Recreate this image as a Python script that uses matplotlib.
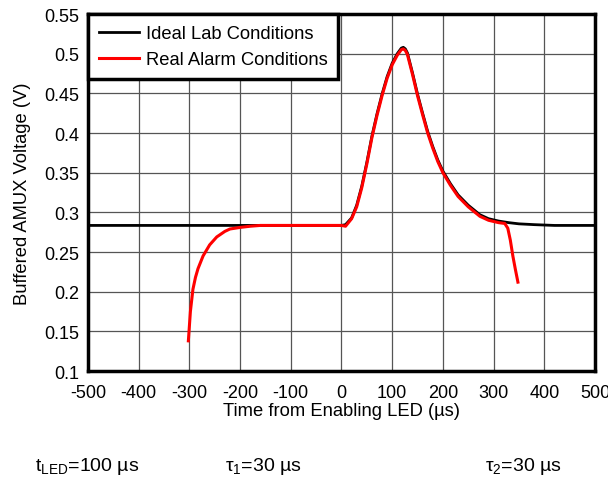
import numpy as np
import matplotlib.pyplot as plt

plt.rcParams['font.family'] = ['Liberation Sans', 'DejaVu Sans']
plt.rcParams['mathtext.default'] = 'regular'
plt.rcParams['axes.unicode_minus'] = False

# Ideal lab response (time in us, voltage in V)
t_ideal = [-500, -400, -300, -200, -100, 0, 8,
           20, 30, 40, 50, 60, 70, 80, 90, 100, 110, 118, 122, 126, 130,
           140, 150, 160, 170, 180, 190, 200, 215, 230, 250, 273, 290, 310,
           330, 350, 380, 420, 460, 500]
v_ideal = [0.2835, 0.2835, 0.2835, 0.2835, 0.2835, 0.2835, 0.2845,
           0.293, 0.309, 0.333, 0.363, 0.396, 0.424, 0.449, 0.471, 0.488, 0.500, 0.507, 0.508, 0.506, 0.501,
           0.476, 0.449, 0.425, 0.402, 0.383, 0.366, 0.352, 0.336, 0.322, 0.309, 0.297, 0.292, 0.289,
           0.287, 0.2855, 0.2845, 0.2835, 0.2835, 0.2835]

# Real alarm response
t_real = [-302, -298, -293, -288, -283, -273, -260, -246, -230, -220, -200, -180,
          -160, -100, -50, 0, 8, 20, 30, 40, 50, 60, 70, 80, 90, 100, 110, 118,
          122, 126, 130, 140, 150, 160, 170, 180, 190, 200, 215, 230, 250, 273,
          290, 310, 322, 328, 333, 338, 343, 348]
v_real = [0.138, 0.175, 0.203, 0.218, 0.229, 0.245, 0.259, 0.269, 0.276, 0.279, 0.281, 0.2825,
          0.2835, 0.2835, 0.2835, 0.2835, 0.2825, 0.292, 0.307, 0.331, 0.361, 0.394, 0.422, 0.447, 0.469, 0.486, 0.498, 0.505,
          0.506, 0.504, 0.499, 0.474, 0.447, 0.423, 0.400, 0.381, 0.364, 0.350, 0.334, 0.320, 0.307, 0.295,
          0.290, 0.287, 0.286, 0.280, 0.265, 0.245, 0.228, 0.212]

fig = plt.figure(figsize=(6.08, 4.81), dpi=100)
ax = fig.add_axes([0.1447, 0.2266, 0.8339, 0.7422])

ax.plot(t_ideal, v_ideal, color='black', lw=2.0, label='Ideal Lab Conditions')
ax.plot(t_real, v_real, color='red', lw=2.2, label='Real Alarm Conditions')

ax.set_xlim(-500, 500)
ax.set_ylim(0.1, 0.55)
ax.set_xticks(np.arange(-500, 501, 100))
ax.set_yticks(np.arange(0.1, 0.551, 0.05))
ax.set_yticklabels(['0.1', '0.15', '0.2', '0.25', '0.3', '0.35', '0.4', '0.45', '0.5', '0.55'])
ax.tick_params(length=0, labelsize=13)
ax.tick_params(axis='x', pad=9)
ax.tick_params(axis='y', pad=6)
ax.grid(True, color='#555555', lw=0.9)
for s in ax.spines.values():
    s.set_linewidth(2.5)

ax.set_xlabel('Time from Enabling LED (µs)', fontsize=13.2, labelpad=1)
ax.set_ylabel('Buffered AMUX Voltage (V)', fontsize=13.2, labelpad=10)

leg = ax.legend(loc='upper left', fontsize=13.2, fancybox=False, framealpha=1,
                borderaxespad=0, handlelength=2.2, handletextpad=0.35,
                borderpad=0.6, labelspacing=0.5)
leg.get_frame().set_edgecolor('black')
leg.get_frame().set_linewidth(2.5)

fig.text(0.058, 0.03, r't$_{LED}$=100 µs', fontsize=14, va='center')
fig.text(0.37, 0.03, r'τ$_1$=30 µs', fontsize=14, va='center')
fig.text(0.797, 0.03, r'τ$_2$=30 µs', fontsize=14, va='center')

fig.savefig('out.png', dpi=100)
